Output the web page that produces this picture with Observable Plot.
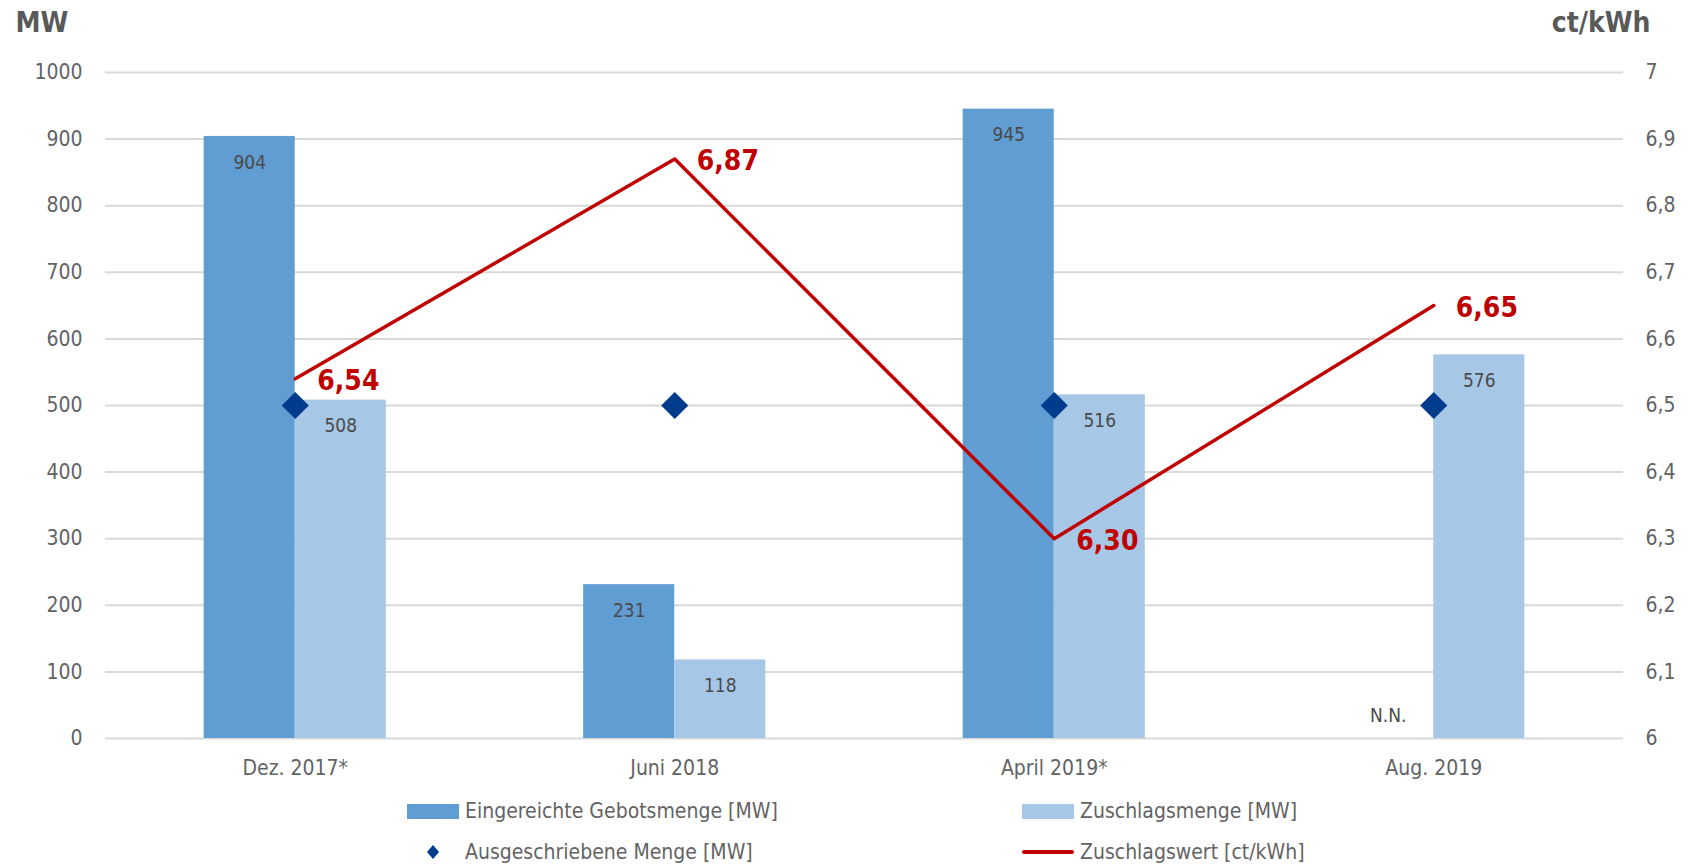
<!DOCTYPE html>
<html>
<head>
<meta charset="utf-8">
<script src="https://cdn.jsdelivr.net/npm/d3@7"></script>
<script src="https://cdn.jsdelivr.net/npm/@observablehq/plot@0.6"></script>
<style>
  html, body { margin: 0; padding: 0; background: #fff; }
  #wrap { position: relative; width: 1691px; height: 865px; font-family: "Liberation Sans Narrow", "DejaVu Sans Condensed", sans-serif; color: #595959; }
  .lg { position: absolute; display: flex; align-items: center; font-size: 21px; color: #636363; white-space: nowrap; }
  .sw { width: 52px; height: 15px; margin-right: 6px; }
</style>
</head>
<body>
<div id="wrap"></div>
<script>
const categories = ["Dez. 2017*", "Juni 2018", "April 2019*", "Aug. 2019"];
const gebotsmenge = [904, 231, 945, null];          // Eingereichte Gebotsmenge [MW]
const gebotsLabels = ["904", "231", "945", "N.N."];
const zuschlagsmenge = [508, 118, 516, 576];        // Zuschlagsmenge [MW]
const ausgeschrieben = [500, 500, 500, 500];        // Ausgeschriebene Menge [MW]
const zuschlagswert = [6.54, 6.87, 6.30, 6.65];     // Zuschlagswert [ct/kWh]
const leftTicks = [0, 100, 200, 300, 400, 500, 600, 700, 800, 900, 1000];
const rightTickLabels = ["6", "6,1", "6,2", "6,3", "6,4", "6,5", "6,6", "6,7", "6,8", "6,9", "7"];

const font = '"Liberation Sans Narrow", "DejaVu Sans Condensed", sans-serif';
const darkBlue = "#5f9dd3", lightBlue = "#a7c7e7", red = "#c00000", navy = "#003b8e";
const half = 0.24;

const rows = categories.map((c, i) => ({
  i, c,
  geb: gebotsmenge[i], gebLabel: gebotsLabels[i],
  zus: zuschlagsmenge[i], aus: ausgeschrieben[i],
  wert: zuschlagswert[i],
  wertY: (zuschlagswert[i] - 6) * 1000,
  wertLabel: zuschlagswert[i].toFixed(2).replace(".", ",")
}));

const chart = Plot.plot({
  width: 1691,
  height: 790,
  marginLeft: 105,
  marginRight: 68,
  marginTop: 72,
  marginBottom: 52,
  style: { fontFamily: font, fontSize: "21px", color: "#636363", background: "transparent" },
  x: { type: "linear", domain: [-0.5, 3.5], axis: null },
  y: { domain: [0, 1000], axis: null },
  marks: [
    Plot.gridY(leftTicks, { stroke: "#d9d9d9", strokeOpacity: 1, strokeWidth: 2 }),
    Plot.axisY(leftTicks, { anchor: "left", tickSize: 0, tickPadding: 23, label: null, fill: "#636363",
      tickFormat: d => String(d) }),
    Plot.axisY(leftTicks, { anchor: "right", tickSize: 0, tickPadding: 22, label: null, fill: "#636363",
      textAnchor: "start", tickFormat: d => rightTickLabels[leftTicks.indexOf(d)] }),
    Plot.axisX([0, 1, 2, 3], { tickSize: 0, tickPadding: 22, label: null, fill: "#636363",
      tickFormat: d => categories[d] }),
    Plot.rectY(rows.filter(d => d.geb != null), { x1: d => d.i - half, x2: d => d.i, y1: 0, y2: "geb", fill: darkBlue }),
    Plot.rectY(rows, { x1: d => d.i, x2: d => d.i + half, y1: 0, y2: "zus", fill: lightBlue }),
    Plot.text(rows.filter(d => d.geb != null), { x: d => d.i - half / 2, y: "geb", text: "gebLabel", dy: 26, fill: "#4a4a4a", fontSize: 19 }),
    Plot.text(rows.filter(d => d.geb == null), { x: d => d.i - half / 2, y: 0, text: "gebLabel", dy: -23, fill: "#4a4a4a", fontSize: 19 }),
    Plot.text(rows, { x: d => d.i + half / 2, y: "zus", text: d => String(d.zus), dy: 26, fill: "#4a4a4a", fontSize: 19 }),
    Plot.line(rows, { x: "i", y: "wertY", stroke: red, strokeWidth: 3.5 }),
    Plot.dot(rows, { x: "i", y: "aus", symbol: "diamond2", r: 12.2, fill: navy, stroke: null }),
    Plot.text(rows, { x: "i", y: "wertY", text: "wertLabel", dx: 22, dy: 2, textAnchor: "start", fill: red, fontSize: 28, fontWeight: "bold" }),
    Plot.text(["MW"], { frameAnchor: "top-left", dx: -90, dy: -60, textAnchor: "start", fontSize: 28, fontWeight: "bold", fill: "#595959" }),
    Plot.text(["ct/kWh"], { frameAnchor: "top-right", dx: 27, dy: -60, textAnchor: "end", fontSize: 28, fontWeight: "bold", fill: "#595959" })
  ]
});

const wrap = document.getElementById("wrap");
chart.style.position = "absolute";
chart.style.left = "0px";
chart.style.top = "0px";
wrap.appendChild(chart);

const legendItems = [
  { label: "Eingereichte Gebotsmenge [MW]", kind: "rect", color: darkBlue, left: 407, top: 811 },
  { label: "Zuschlagsmenge [MW]", kind: "rect", color: lightBlue, left: 1022, top: 811 },
  { label: "Ausgeschriebene Menge [MW]", kind: "diamond", color: navy, left: 407, top: 852 },
  { label: "Zuschlagswert [ct/kWh]", kind: "line", color: red, left: 1022, top: 852 }
];
for (const it of legendItems) {
  const d = document.createElement("div");
  d.className = "lg";
  d.style.left = it.left + "px";
  d.style.top = (it.top - 14) + "px";
  d.style.height = "28px";
  const sw = document.createElement("div");
  sw.className = "sw";
  sw.style.display = "flex";
  sw.style.alignItems = "center";
  sw.style.justifyContent = "center";
  if (it.kind === "rect") sw.style.background = it.color;
  else if (it.kind === "line") { sw.style.height = "4px"; sw.style.background = it.color; sw.style.borderRadius = "2px"; }
  else {
    sw.innerHTML = `<svg width="14" height="16" viewBox="-7 -8 14 16"><path d="M0,-7L6,0L0,7L-6,0Z" fill="${it.color}"/></svg>`;
  }
  d.appendChild(sw);
  const t = document.createElement("span");
  t.textContent = it.label;
  d.appendChild(t);
  wrap.appendChild(d);
}
</script>
</body>
</html>
